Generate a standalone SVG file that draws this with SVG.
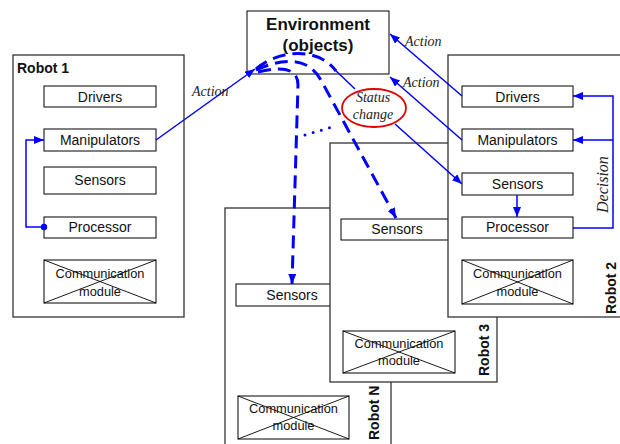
<svg xmlns="http://www.w3.org/2000/svg" width="620" height="444" viewBox="0 0 620 444">
  <style>
    .robot { fill:#fff; stroke:#333; stroke-width:1.3; }
    .box { fill:#fff; stroke:#000; stroke-width:1; }
    .x { stroke:#000; stroke-width:0.9; }
    .t { font-family:"Liberation Sans",Arial,sans-serif; font-size:14px; fill:#111; text-anchor:middle; }
    .cm { font-family:"Liberation Sans",Arial,sans-serif; font-size:12.8px; fill:#111; text-anchor:middle; }
    .rl { font-family:"Liberation Sans",Arial,sans-serif; font-size:14px; font-weight:bold; fill:#111; }
    .env { font-family:"Liberation Sans",Arial,sans-serif; font-size:17px; font-weight:bold; fill:#111; text-anchor:middle; }
    .lbl { font-family:"Liberation Serif","Times New Roman",serif; font-style:italic; font-size:14px; fill:#222; }
    .c { stroke:#0000ff; stroke-width:1.5; fill:none; }
    .d { stroke:#0000ff; stroke-width:3; stroke-dasharray:13 7; fill:none; }
    .dot { stroke:#0000ff; stroke-width:3; stroke-linecap:round; stroke-dasharray:0 8.5; fill:none; }
  </style>
  <defs>
    <marker id="ah" viewBox="0 0 10 8" refX="10" refY="4" markerWidth="10" markerHeight="8" orient="auto" markerUnits="userSpaceOnUse">
      <path d="M0,0 L10,4 L0,8 z" fill="#0000ff"/>
    </marker>
  </defs>

  <!-- Robot N (back) -->
  <g id="robotN">
    <rect class="robot" x="225" y="208" width="166" height="250"/>
    <rect class="box" x="236" y="284" width="112" height="22"/>
    <text class="t" x="292" y="300">Sensors</text>
    <rect class="box" x="238" y="396" width="111" height="43"/>
    <line class="x" x1="238" y1="396" x2="349" y2="439"/>
    <line class="x" x1="238" y1="439" x2="349" y2="396"/>
    <text class="cm" x="293.5" y="413">Communication</text>
    <text class="cm" x="293.5" y="430">module</text>
    <text class="rl" transform="translate(379,440) rotate(-90)">Robot N</text>
  </g>

  <!-- Robot 3 -->
  <g id="robot3">
    <rect class="robot" x="330" y="143" width="167" height="239"/>
    <rect class="box" x="341" y="219" width="112" height="21"/>
    <text class="t" x="397" y="234">Sensors</text>
    <rect class="box" x="343" y="331" width="112" height="42"/>
    <line class="x" x1="343" y1="331" x2="455" y2="373"/>
    <line class="x" x1="343" y1="373" x2="455" y2="331"/>
    <text class="cm" x="399" y="348">Communication</text>
    <text class="cm" x="399" y="365">module</text>
    <text class="rl" transform="translate(489,376) rotate(-90)">Robot 3</text>
  </g>

  <!-- Robot 2 -->
  <g id="robot2">
    <rect class="robot" x="448" y="55" width="200" height="262"/>
    <rect class="box" x="462" y="86" width="111" height="21"/>
    <text class="t" x="517.5" y="102">Drivers</text>
    <rect class="box" x="462" y="129" width="111" height="22"/>
    <text class="t" x="517.5" y="145">Manipulators</text>
    <rect class="box" x="462" y="173" width="111" height="22"/>
    <text class="t" x="517.5" y="189">Sensors</text>
    <rect class="box" x="462" y="217" width="111" height="21"/>
    <text class="t" x="517.5" y="232">Processor</text>
    <rect class="box" x="462" y="260" width="111" height="44"/>
    <line class="x" x1="462" y1="260" x2="573" y2="304"/>
    <line class="x" x1="462" y1="304" x2="573" y2="260"/>
    <text class="cm" x="517.5" y="278">Communication</text>
    <text class="cm" x="517.5" y="296">module</text>
    <text class="rl" transform="translate(616,314) rotate(-90)">Robot 2</text>
  </g>

  <!-- Robot 1 -->
  <g id="robot1">
    <rect class="robot" x="13" y="55" width="171" height="262"/>
    <text class="rl" x="17" y="73">Robot 1</text>
    <rect class="box" x="44" y="86" width="112" height="21"/>
    <text class="t" x="100" y="102">Drivers</text>
    <rect class="box" x="44" y="129" width="112" height="22"/>
    <text class="t" x="100" y="145">Manipulators</text>
    <rect class="box" x="44" y="167" width="112" height="27"/>
    <text class="t" x="100" y="185">Sensors</text>
    <rect class="box" x="44" y="217" width="112" height="21"/>
    <text class="t" x="100" y="232">Processor</text>
    <rect class="box" x="44" y="260" width="112" height="43"/>
    <line class="x" x1="44" y1="260" x2="156" y2="303"/>
    <line class="x" x1="44" y1="303" x2="156" y2="260"/>
    <text class="cm" x="100" y="278">Communication</text>
    <text class="cm" x="100" y="296">module</text>
  </g>

  <!-- Environment -->
  <g id="environment">
    <rect class="box" x="247" y="11" width="142" height="63"/>
    <text class="env" x="318" y="30">Environment</text>
    <text class="env" x="318" y="51">(objects)</text>
  </g>

  <!-- Status change -->
  <g id="status">
    <ellipse cx="374" cy="108" rx="32" ry="19" fill="none" stroke="#e00000" stroke-width="1.8"/>
    <text class="lbl" x="373" y="102" text-anchor="middle">Status</text>
    <text class="lbl" x="373" y="119" text-anchor="middle">change</text>
  </g>

  <!-- Connectors -->
  <g id="connectors">
    <!-- Robot 1 internal -->
    <path class="c" d="M44,227 H26 V140 H44" marker-end="url(#ah)"/>
    <circle cx="44" cy="227" r="3.2" fill="#0000ff"/>
    <!-- Robot 1 action on environment -->
    <path class="c" d="M156,140 L255,69" marker-end="url(#ah)"/>
    <text class="lbl" x="192" y="96">Action</text>
    <!-- environment perceived by other robots -->
    <path class="d" d="M256,69 C278,50 318,46 336,71"/>
    <path class="c" d="M333,68 L355,89"/>
    <path class="d" d="M256,70 Q305,48 322,82 L396,218" marker-end="url(#ah)"/>
    <path class="d" d="M258,72 Q298,62 298,85 L292,284" marker-end="url(#ah)"/>
    <path class="dot" d="M305,135 L332,127"/>
    <!-- Robot 2 actions and sensing -->
    <path class="c" d="M462,96 L390,34" marker-end="url(#ah)"/>
    <text class="lbl" x="405" y="46">Action</text>
    <path class="c" d="M462,140 L390,77" marker-end="url(#ah)"/>
    <text class="lbl" x="403" y="87">Action</text>
    <path class="c" d="M395,124 L462,184" marker-end="url(#ah)"/>
    <!-- Robot 2 internal -->
    <path class="c" d="M517,195 V217" marker-end="url(#ah)"/>
    <path class="c" d="M573,228 H613 V96 H573" marker-end="url(#ah)"/>
    <path class="c" d="M613,140 H573" marker-end="url(#ah)"/>
    <text class="lbl" style="font-size:16px" transform="translate(608,213) rotate(-90)">Decision</text>
  </g>
</svg>
